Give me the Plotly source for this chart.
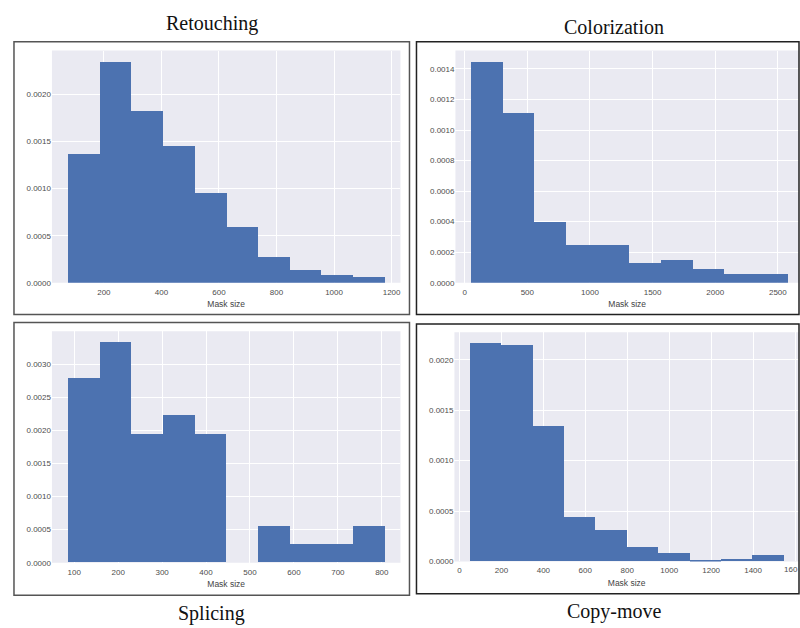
import plotly.graph_objects as go

# ---------------- data ----------------
retouch_edges = [75, 185, 295, 405, 515, 626, 736, 846, 956, 1066, 1176]
retouch_density = [0.00137, 0.002352, 0.001835, 0.001456, 0.00096, 0.000601,
                   0.000274, 0.000137, 0.0000844, 0.0000633]

color_edges = [53, 306, 559, 811, 1064, 1317, 1570, 1823, 2075, 2328, 2581]
color_density = [0.001448, 0.001116, 0.000401, 0.000252, 0.000252, 0.000134,
                 0.000154, 0.0000956, 0.000063, 0.000063]

splice_edges = [86, 158, 230, 302, 374, 446, 518, 590, 662, 734, 806]
splice_density = [0.002778, 0.003333, 0.001944, 0.002222, 0.001944, 0.0,
                  0.000556, 0.000278, 0.000278, 0.000556]

copy_edges = [52, 202, 351, 501, 650, 800, 950, 1099, 1249, 1398, 1548]
copy_density = [0.002164, 0.002144, 0.001338, 0.000443, 0.000305, 0.000138,
                0.0000787, 0.000005, 0.0000226, 0.000059]

titles = ["Retouching", "Colorization", "Splicing", "Copy-move"]
x_label = "Mask size"
cut_tick_label = "160"   # the "1600" tick of Copy-move is cut by the right edge

W, H = 800, 628
BAR = "#4C72B0"
BG = "#EAEAF2"


def px_x(v):
    return v / W


def px_y(v):
    return 1 - v / H


panels = [
    dict(edges=retouch_edges, dens=retouch_density, xdom=(52, 401), ydom=(51, 285),
         xr=(19.5, 1231), yr=(0, 0.002468), xd=200, yd=0.0005),
    dict(edges=color_edges, dens=color_density, xdom=(456, 800), ydom=(51, 285),
         xr=(-74, 2669), yr=(0, 0.00152), xd=500, yd=0.0002),
    dict(edges=splice_edges, dens=splice_density, xdom=(52, 401), ydom=(334, 567.3),
         xr=(49.3, 842.5), yr=(0, 0.003494), xd=100, yd=0.0005),
    dict(edges=copy_edges, dens=copy_density, xdom=(455, 800), ydom=(335, 566),
         xr=(-24, 1619), yr=(0, 0.002273), xd=200, yd=0.0005),
]

TICKFONT = dict(family="Liberation Sans, Arial", size=8, color="#4d4d4d")

fig = go.Figure()
layout = {}
for i, p in enumerate(panels):
    n = "" if i == 0 else str(i + 1)
    e = p["edges"]
    centers = [(e[k] + e[k + 1]) / 2 for k in range(len(e) - 1)]
    widths = [e[k + 1] - e[k] for k in range(len(e) - 1)]
    fig.add_trace(go.Bar(x=centers, y=p["dens"], width=widths,
                         marker=dict(color=BAR, line=dict(width=0)),
                         xaxis="x" + n, yaxis="y" + n, showlegend=False,
                         hoverinfo="skip"))
    layout["xaxis" + n] = dict(
        domain=[px_x(p["xdom"][0]), px_x(p["xdom"][1])],
        range=list(p["xr"]), dtick=p["xd"], tick0=0, anchor="y" + n,
        showgrid=True, gridcolor="white", gridwidth=1.2, zeroline=False,
        showline=False, ticks="", tickfont=TICKFONT, ticklabelstandoff=3,
        title=dict(text=x_label, standoff=5,
                   font=dict(family="Liberation Sans, Arial", size=8.5, color="#444")),
    )
    layout["yaxis" + n] = dict(
        domain=[px_y(p["ydom"][1]), px_y(p["ydom"][0])],
        range=list(p["yr"]), dtick=p["yd"], tick0=0, anchor="x" + n,
        tickformat=".4f", showgrid=True, gridcolor="white", gridwidth=1.2,
        zeroline=False, showline=False, ticks="", tickfont=TICKFONT,
    )

# frames around each subplot
frames = [((14, 410), (42, 317), "#555"), ((417, 802), (42, 317), "#222"),
          ((14, 410), (325, 600), "#555"), ((417, 802), (326.5, 598.5), "#222")]
shapes = []
for (x0, x1), (y0, y1), c in frames:
    shapes.append(dict(type="rect", xref="paper", yref="paper",
                       x0=px_x(x0), x1=min(1.0, px_x(x1)), y0=px_y(y1), y1=px_y(y0),
                       line=dict(color=c, width=1.5), fillcolor="rgba(0,0,0,0)",
                       layer="above"))

# plot area backgrounds
for p in panels:
    shapes.append(dict(type="rect", xref="paper", yref="paper",
                       x0=px_x(p["xdom"][0]), x1=px_x(p["xdom"][1]),
                       y0=px_y(p["ydom"][1]), y1=px_y(p["ydom"][0]),
                       line=dict(width=0), fillcolor=BG, layer="below"))

title_pos = [(212, 24), (615, 27), (212, 618.5), (615, 616.5)]
annotations = []
for t, (cx, cy) in zip(titles, title_pos):
    annotations.append(dict(text=t, x=px_x(cx), y=px_y(cy), xref="paper", yref="paper",
                            xanchor="center", yanchor="middle", showarrow=False,
                            font=dict(family="Liberation Serif, serif", size=20, color="#111")))

# partially visible last tick label of the Copy-move panel
annotations.append(dict(text=cut_tick_label, x=px_x(784), y=px_y(574), xref="paper",
                        yref="paper", xanchor="left", yanchor="middle", showarrow=False,
                        borderpad=0, font=TICKFONT))

fig.update_layout(
    width=W, height=H, margin=dict(l=0, r=0, t=0, b=0),
    paper_bgcolor="white", plot_bgcolor="rgba(0,0,0,0)",
    bargap=0, shapes=shapes, annotations=annotations, hovermode=False, **layout,
)

fig.write_html(
    "out.html",
    config={"displayModeBar": False},
    post_script="document.body.style.margin='0';document.body.style.overflow='hidden';",
)
